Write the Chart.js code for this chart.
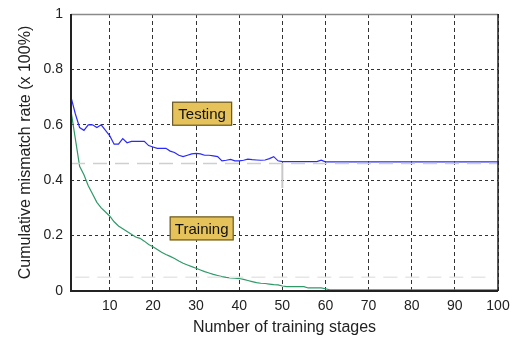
<!DOCTYPE html>
<html>
<head>
<meta charset="utf-8">
<script src="https://cdn.jsdelivr.net/npm/chart.js@4/dist/chart.umd.min.js"></script>
<style>
  html, body { margin: 0; padding: 0; background: #fff; }
  #wrap { width: 519px; height: 337px; position: relative; }
</style>
</head>
<body>
<div id="wrap"><canvas id="c" width="519" height="337"></canvas></div>
<script>
// Training stages 1..100
const stages = Array.from({ length: 100 }, (_, i) => i + 1);

// Cumulative mismatch rate on the test set
const testingRate = [
  0.70, 0.64, 0.59, 0.58, 0.60, 0.60, 0.59, 0.60, 0.58, 0.56,
  0.53, 0.53, 0.55, 0.535, 0.54, 0.54, 0.54, 0.54, 0.525, 0.52,
  0.515, 0.515, 0.515, 0.505, 0.50, 0.49, 0.485, 0.49, 0.495, 0.497,
  0.495, 0.49, 0.49, 0.488, 0.485, 0.47, 0.472, 0.475, 0.47, 0.47,
  0.472, 0.476, 0.474, 0.473, 0.472, 0.473, 0.478, 0.485, 0.47, 0.467,
  0.467, 0.467, 0.467, 0.467, 0.467, 0.467, 0.467, 0.467, 0.472, 0.466,
  0.466, 0.466, 0.466, 0.466, 0.466, 0.466, 0.466, 0.466, 0.466, 0.466,
  0.466, 0.466, 0.466, 0.466, 0.466, 0.466, 0.466, 0.466, 0.466, 0.466,
  0.466, 0.466, 0.466, 0.466, 0.466, 0.466, 0.466, 0.466, 0.466, 0.466,
  0.466, 0.466, 0.466, 0.466, 0.466, 0.466, 0.466, 0.466, 0.466, 0.466
];

// Cumulative mismatch rate on the training set
const trainingRate = [
  0.65, 0.55, 0.45, 0.42, 0.38, 0.35, 0.32, 0.30, 0.285, 0.27,
  0.25, 0.235, 0.225, 0.215, 0.205, 0.195, 0.19, 0.18, 0.168, 0.16,
  0.15, 0.14, 0.132, 0.125, 0.117, 0.108, 0.10, 0.094, 0.088, 0.082,
  0.076, 0.07, 0.065, 0.06, 0.056, 0.052, 0.049, 0.047, 0.046, 0.045,
  0.042, 0.038, 0.034, 0.03, 0.028, 0.027, 0.025, 0.023, 0.022, 0.018,
  0.016, 0.016, 0.016, 0.016, 0.016, 0.011, 0.011, 0.011, 0.011, 0.008,
  0.004, 0.004, 0.004, 0.004, 0.004, 0.004, 0.004, 0.004, 0.004, 0.004,
  0.004, 0.004, 0.004, 0.004, 0.004, 0.004, 0.004, 0.004, 0.004, 0.004,
  0.004, 0.004, 0.004, 0.004, 0.004, 0.004, 0.004, 0.004, 0.004, 0.004,
  0.004, 0.004, 0.004, 0.004, 0.004, 0.004, 0.004, 0.004, 0.004, 0.004
];

// Asymptotic levels shown as faint reference lines
const testLevel = 0.46;
const trainLevel = 0.05;
// Marker at stage 50 below the test curve
const markerStage = 50;
const markerRange = [0.372, 0.462];

const xTicks = [10, 20, 30, 40, 50, 60, 70, 80, 90, 100];
const yTicks = [0, 0.2, 0.4, 0.6, 0.8, 1];

const FONT = "'Liberation Sans', Arial, sans-serif";

const pts = (ys) => stages.map((s, i) => ({ x: s, y: ys[i] }));

// Frame + callout labels
const decorations = {
  id: 'decorations',
  afterDatasetsDraw(chart) {
    const { ctx, chartArea: a, scales: { x, y } } = chart;
    ctx.save();
    // frame: top lighter, right/left/bottom dark
    ctx.lineWidth = 1.5;
    ctx.strokeStyle = '#8a8a8a';
    ctx.beginPath();
    ctx.moveTo(a.left, a.top + 0.5);
    ctx.lineTo(a.right, a.top + 0.5);
    ctx.stroke();
    ctx.strokeStyle = '#222';
    ctx.beginPath();
    ctx.moveTo(a.right, a.top);
    ctx.lineTo(a.right, a.bottom);
    ctx.stroke();
    ctx.lineWidth = 2;
    ctx.beginPath();
    ctx.moveTo(a.left, a.top);
    ctx.lineTo(a.left, a.bottom);
    ctx.lineTo(a.right, a.bottom);
    ctx.stroke();

    // callouts
    const notes = chart.options.plugins.decorations.notes;
    ctx.font = "15px " + FONT;
    ctx.textBaseline = 'middle';
    ctx.textAlign = 'center';
    notes.forEach(n => {
      const cx = x.getPixelForValue(n.x);
      const cy = y.getPixelForValue(n.y);
      const w = n.w, h = 24;
      ctx.fillStyle = '#e6c35a';
      ctx.fillRect(cx - w / 2, cy - h / 2, w, h);
      ctx.lineWidth = 1.2;
      ctx.strokeStyle = '#6b5a2a';
      ctx.strokeRect(cx - w / 2 + 0.5, cy - h / 2 + 0.5, w - 1, h - 1);
      ctx.fillStyle = '#111';
      ctx.fillText(n.text, cx, cy + 1);
    });
    ctx.restore();
  }
};

const gridCommon = {
  color: '#333',
  lineWidth: 1,
  drawTicks: false
};

new Chart(document.getElementById('c'), {
  type: 'line',
  data: {
    datasets: [
      {
        label: 'test level',
        data: [{ x: 1, y: testLevel }, { x: 100, y: testLevel }],
        borderColor: '#cfcfcf',
        borderWidth: 1.5,
        borderDash: [14, 8],
        pointRadius: 0
      },
      {
        label: 'train level',
        data: [{ x: 2, y: trainLevel }, { x: 99, y: trainLevel }],
        borderColor: '#e6e6e6',
        borderWidth: 1.5,
        borderDash: [14, 8],
        pointRadius: 0
      },
      {
        label: 'marker',
        data: [{ x: markerStage, y: markerRange[0] }, { x: markerStage, y: markerRange[1] }],
        borderColor: '#c8c8c8',
        borderWidth: 2,
        pointRadius: 0
      },
      {
        label: 'Testing',
        data: pts(testingRate),
        borderColor: '#2a2aff',
        borderWidth: 1.2,
        pointRadius: 0,
        tension: 0
      },
      {
        label: 'Training',
        data: pts(trainingRate),
        borderColor: '#2f9a68',
        borderWidth: 1.2,
        pointRadius: 0,
        tension: 0
      }
    ]
  },
  options: {
    responsive: false,
    animation: false,
    devicePixelRatio: 1,
    layout: { padding: { left: 0, top: 14, right: 21, bottom: 0 } },
    plugins: {
      legend: { display: false },
      tooltip: { enabled: false },
      decorations: {
        notes: [
          { text: 'Testing', x: 31.4, y: 0.64, w: 60 },
          { text: 'Training', x: 31.3, y: 0.226, w: 64 }
        ]
      }
    },
    scales: {
      x: {
        type: 'linear',
        min: 1,
        max: 100,
        afterBuildTicks: (s) => { s.ticks = xTicks.map(v => ({ value: v })); },
        afterFit: (s) => { s.height = 46; s.paddingLeft = 0; s.paddingRight = 0; },
        grid: gridCommon,
        border: { display: false, dash: [4, 3] },
        ticks: {
          color: '#222',
          font: { family: FONT, size: 14 },
          padding: 7,
          maxRotation: 0,
          autoSkip: false,
          callback: (v) => String(v)
        },
        title: {
          display: true,
          text: 'Number of training stages',
          color: '#222',
          font: { family: FONT, size: 16 },
          padding: { top: 1, bottom: 0 }
        }
      },
      y: {
        type: 'linear',
        min: 0,
        max: 1,
        afterBuildTicks: (s) => { s.ticks = yTicks.map(v => ({ value: v })); },
        afterFit: (s) => { s.width = 71; s.paddingTop = 0; s.paddingBottom = 0; },
        grid: gridCommon,
        border: { display: false, dash: [3, 3] },
        ticks: {
          color: '#222',
          font: { family: FONT, size: 14 },
          padding: 8,
          autoSkip: false,
          callback: (v) => String(v)
        },
        title: {
          display: true,
          text: 'Cumulative mismatch rate (x 100%)',
          color: '#222',
          font: { family: FONT, size: 16 },
          padding: { top: 16, bottom: 0 }
        }
      }
    }
  },
  plugins: [decorations]
});
</script>
</body>
</html>
